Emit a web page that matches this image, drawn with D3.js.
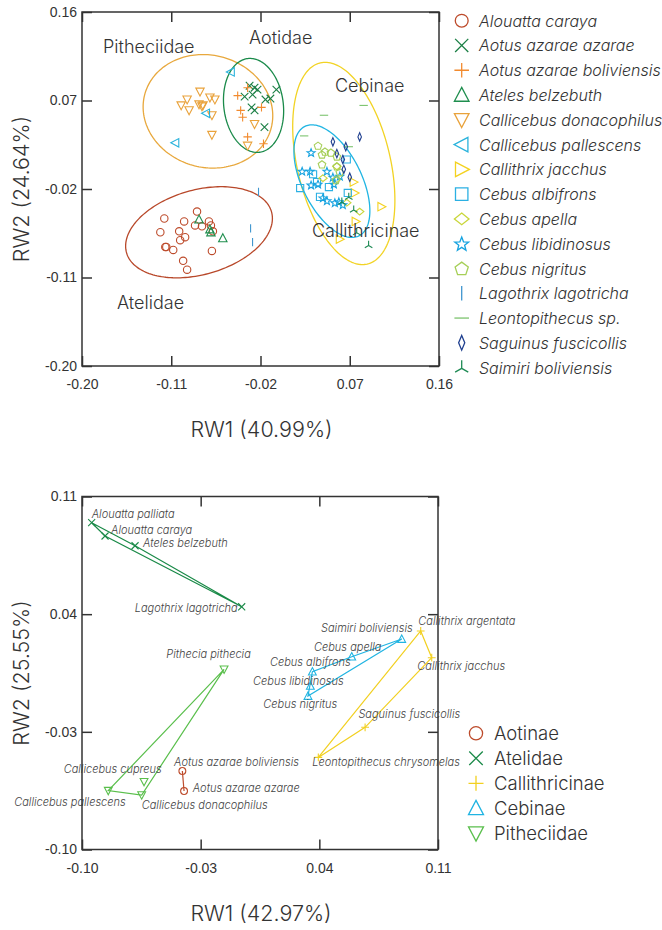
<!DOCTYPE html>
<html>
<head>
<meta charset="utf-8">
<script src="https://cdn.jsdelivr.net/npm/d3@7"></script>
<style>
  html, body { margin: 0; padding: 0; background: #fff; }
  svg { display: block; font-family: Inter, Roboto, "Liberation Sans", Arial, sans-serif; font-weight: 300; }
</style>
</head>
<body>
<svg id="chart" width="662" height="930"></svg>
<script>
// ===================== Upper panel: specimen scores (RW1 vs RW2) =====================
const upperTicks = [-0.20, -0.11, -0.02, 0.07, 0.16];
const upperTickLabels = ["-0.20", "-0.11", "-0.02", "0.07", "0.16"];
const upperXTitle = "RW1 (40.99%)";
const upperYTitle = "RW2 (24.64%)";

const speciesNames = [
  "Alouatta caraya", "Aotus azarae azarae", "Aotus azarae boliviensis", "Ateles belzebuth",
  "Callicebus donacophilus", "Callicebus pallescens", "Callithrix jacchus", "Cebus albifrons",
  "Cebus apella", "Cebus libidinosus", "Cebus nigritus", "Lagothrix lagotricha",
  "Leontopithecus sp.", "Saguinus fuscicollis", "Saimiri boliviensis"
];

const alouattaCaraya = [
  [-0.084, -0.043], [-0.117, -0.050], [-0.097, -0.053], [-0.072, -0.053], [-0.086, -0.057],
  [-0.079, -0.058], [-0.070, -0.057], [-0.121, -0.064], [-0.102, -0.063], [-0.068, -0.063],
  [-0.096, -0.069], [-0.101, -0.072], [-0.116, -0.079], [-0.115, -0.079], [-0.108, -0.082],
  [-0.069, -0.083], [-0.098, -0.093], [-0.094, -0.102]
];
const aotusAzarae = [
  [-0.031, 0.085], [-0.026, 0.083], [-0.023, 0.081], [-0.036, 0.074], [-0.028, 0.076],
  [-0.004, 0.081], [-0.015, 0.071], [-0.010, 0.072], [-0.029, 0.063], [-0.026, 0.060],
  [-0.016, 0.043]
];
const aotusBoliviensis = [
  [-0.033, 0.083], [-0.043, 0.075], [-0.040, 0.060], [-0.038, 0.053], [-0.019, 0.063],
  [-0.033, 0.033], [-0.017, 0.026]
];
const atelesBelzebuth = [[-0.082, -0.051], [-0.071, -0.061], [-0.070, -0.064], [-0.058, -0.070]];
const callicebusDonacophilus = [
  [-0.081, 0.079], [-0.094, 0.071], [-0.100, 0.065], [-0.092, 0.060], [-0.082, 0.066],
  [-0.078, 0.065], [-0.079, 0.064], [-0.071, 0.073], [-0.066, 0.071], [-0.069, 0.055],
  [-0.069, 0.035], [-0.033, 0.024], [-0.026, 0.046]
];
const callicebusPallescens = [[-0.050, 0.099], [-0.075, 0.057], [-0.106, 0.027]];
const callithrixJacchus = [[0.074, -0.013], [0.075, -0.024], [0.102, -0.038], [0.076, -0.053], [0.060, -0.071]];
const cebusAlbifrons = [
  [0.033, -0.005], [0.020, -0.019], [0.037, -0.013], [0.049, -0.018], [0.040, -0.028],
  [0.067, 0.010], [0.068, -0.024]
];
const cebusApella = [[0.043, -0.009], [0.057, -0.010], [0.057, 0.003], [0.067, -0.034], [0.080, -0.043]];
const cebusLibidinosus = [
  [0.031, 0.017], [0.022, -0.002], [0.030, -0.002], [0.047, -0.002], [0.053, -0.008],
  [0.060, -0.007], [0.031, -0.016], [0.054, -0.015], [0.038, -0.015], [0.043, -0.029],
  [0.047, -0.032], [0.055, -0.034], [0.059, -0.033], [0.063, -0.036]
];
const cebusNigritus = [
  [0.038, 0.024], [0.045, 0.018], [0.051, 0.017], [0.042, 0.015], [0.042, 0.005],
  [0.057, 0.013], [0.057, 0.003], [0.060, -0.003], [0.056, -0.011]
];
const lagothrixLagotricha = [[-0.022, -0.023], [-0.030, -0.060], [-0.028, -0.074]];
const leontopithecusSp = [[0.084, 0.065], [0.044, 0.055], [0.024, 0.034], [0.069, 0.023]];
const saguinusFuscicollis = [
  [0.080, 0.033], [0.053, 0.028], [0.066, 0.023], [0.057, 0.016], [0.063, 0.010],
  [0.064, 0.000], [0.070, -0.008]
];
const saimiriBoliviensis = [[0.062, -0.033], [0.069, -0.028], [0.074, -0.041], [0.077, -0.064], [0.089, -0.077]];

const speciesPoints = [
  alouattaCaraya, aotusAzarae, aotusBoliviensis, atelesBelzebuth, callicebusDonacophilus,
  callicebusPallescens, callithrixJacchus, cebusAlbifrons, cebusApella, cebusLibidinosus,
  cebusNigritus, lagothrixLagotricha, leontopithecusSp, saguinusFuscicollis, saimiriBoliviensis
];

// Confidence ellipses per group (centre, semi-axes, orientation in degrees)
const ellipseGroups = ["Pitheciidae", "Aotidae", "Cebinae", "Callithricinae", "Atelidae"];
const ellipseCentres = [[-0.073, 0.059], [-0.027, 0.065], [0.064, 0.006], [0.052, -0.012], [-0.082, -0.064]];
const ellipseAxes = [[0.066, 0.057], [0.048, 0.030], [0.105, 0.047], [0.062, 0.030], [0.076, 0.043]];
const ellipseAngles = [-16, 97, 103, 116, 16];

// ===================== Lower panel: taxon means (RW1 vs RW2) =====================
const lowerTicks = [-0.10, -0.03, 0.04, 0.11];
const lowerTickLabels = ["-0.10", "-0.03", "0.04", "0.11"];
const lowerXTitle = "RW1 (42.97%)";
const lowerYTitle = "RW2 (25.55%)";

const groupNames = ["Aotinae", "Atelidae", "Callithricinae", "Cebinae", "Pitheciidae"];
const taxa = [
  "Alouatta palliata", "Alouatta caraya", "Ateles belzebuth", "Lagothrix lagotricha",
  "Saimiri boliviensis", "Cebus apella", "Cebus albifrons", "Cebus libidinosus", "Cebus nigritus",
  "Callithrix argentata", "Callithrix jacchus", "Saguinus fuscicollis", "Leontopithecus chrysomelas",
  "Pithecia pithecia", "Callicebus cupreus", "Callicebus pallescens", "Callicebus donacophilus",
  "Aotus azarae boliviensis", "Aotus azarae azarae"
];
const taxonGroup = [
  "Atelidae", "Atelidae", "Atelidae", "Atelidae",
  "Cebinae", "Cebinae", "Cebinae", "Cebinae", "Cebinae",
  "Callithricinae", "Callithricinae", "Callithricinae", "Callithricinae",
  "Pitheciidae", "Pitheciidae", "Pitheciidae", "Pitheciidae",
  "Aotinae", "Aotinae"
];
const taxonRW1 = [
  -0.0943, -0.0864, -0.0687, -0.0058,
  0.0886, 0.0591, 0.0359, 0.0347, 0.0333,
  0.0998, 0.1063, 0.0670, 0.0394,
  -0.0162, -0.0634, -0.0845, -0.0648,
  -0.0408, -0.0398
];
const taxonRW2 = [
  0.0944, 0.0865, 0.0807, 0.0444,
  0.0252, 0.0147, 0.0058, -0.0027, -0.0087,
  0.0300, 0.0141, -0.0273, -0.0452,
  0.0072, -0.0597, -0.0650, -0.0676,
  -0.0533, -0.0652
];

// ===================== Styling =====================
const ink = "#333";
const speciesStyle = {
  "Alouatta caraya":          { shape: "circle",      color: "#bd4b2b" },
  "Aotus azarae azarae":      { shape: "times",       color: "#1b7f45" },
  "Aotus azarae boliviensis": { shape: "plus",        color: "#f28a2e" },
  "Ateles belzebuth":         { shape: "triUp",       color: "#1f8e4e" },
  "Callicebus donacophilus":  { shape: "triDown",     color: "#e9a23b" },
  "Callicebus pallescens":    { shape: "triLeft",     color: "#2ab3dc" },
  "Callithrix jacchus":       { shape: "triRight",    color: "#f4d21f" },
  "Cebus albifrons":          { shape: "square",      color: "#2bb0e3" },
  "Cebus apella":             { shape: "diamond",     color: "#c9d63a" },
  "Cebus libidinosus":        { shape: "star",        color: "#16a3e0" },
  "Cebus nigritus":           { shape: "pentagon",    color: "#a6cf57" },
  "Lagothrix lagotricha":     { shape: "vbar",        color: "#3f96cf" },
  "Leontopithecus sp.":       { shape: "hbar",        color: "#7cc36e" },
  "Saguinus fuscicollis":     { shape: "thinDiamond", color: "#1f3f8f" },
  "Saimiri boliviensis":      { shape: "triY",        color: "#1e8a54" }
};
const ellipseColor = { Pitheciidae: "#e8a83d", Aotidae: "#1a8a4a", Cebinae: "#f2d324", Callithricinae: "#20b5e3", Atelidae: "#b8482a" };
// group label anchor (data units, text start / baseline)
const ellipseLabelAt = {
  Pitheciidae: [-0.1788, 0.1183], Aotidae: [-0.0316, 0.1275], Cebinae: [0.0551, 0.0787],
  Callithricinae: [0.0319, -0.0688], Atelidae: [-0.1647, -0.1420]
};
const groupStyle = {
  Aotinae:        { shape: "circle",  color: "#bd4b2b" },
  Atelidae:       { shape: "times",   color: "#1a8a48" },
  Callithricinae: { shape: "plus",    color: "#f2d020" },
  Cebinae:        { shape: "triUp",   color: "#20b4e2" },
  Pitheciidae:    { shape: "triDown", color: "#5abf4c" }
};
// label offsets (px) relative to each taxon mean
const taxonLabelPlacement = {
  "Alouatta palliata":          { dx: 0,     dy: -5,   anchor: "start" },
  "Alouatta caraya":            { dx: 6,     dy: -2,   anchor: "start" },
  "Ateles belzebuth":           { dx: 8,     dy: 1.6,  anchor: "start" },
  "Lagothrix lagotricha":       { dx: -4,    dy: 5.6,  anchor: "end" },
  "Saimiri boliviensis":        { dx: 11,    dy: -6.7, anchor: "end" },
  "Cebus apella":               { dx: -4,    dy: -6,   anchor: "middle" },
  "Cebus albifrons":            { dx: -2,    dy: -5.7, anchor: "middle" },
  "Cebus libidinosus":          { dx: -12,   dy: -1,   anchor: "middle" },
  "Cebus nigritus":             { dx: -7.7,  dy: 11.7, anchor: "middle" },
  "Callithrix argentata":       { dx: -2.4,  dy: -6,   anchor: "start" },
  "Callithrix jacchus":         { dx: -14.4, dy: 12.3, anchor: "start" },
  "Saguinus fuscicollis":       { dx: -6.7,  dy: -9.6, anchor: "start" },
  "Leontopithecus chrysomelas": { dx: -6,    dy: 8.4,  anchor: "start" },
  "Pithecia pithecia":          { dx: -15.5, dy: -11,  anchor: "middle" },
  "Callicebus cupreus":         { dx: 17.7,  dy: -8.4, anchor: "end" },
  "Callicebus pallescens":      { dx: 17.4,  dy: 15,   anchor: "end" },
  "Callicebus donacophilus":    { dx: 0,     dy: 14,   anchor: "start" },
  "Aotus azarae boliviensis":   { dx: -8.3,  dy: -5,   anchor: "start" },
  "Aotus azarae azarae":        { dx: 8.7,   dy: 0.7,  anchor: "start" }
};

// ===================== Marker shapes as d3 symbol types =====================
// size passed to d3.symbol is (2r)^2, r being the half-extent of the glyph
const halfExtent = size => Math.sqrt(size) / 2;
const polygonSymbol = pts => ({
  draw(ctx, size) {
    const r = halfExtent(size);
    pts.forEach(([px, py], i) => i ? ctx.lineTo(px * r, py * r) : ctx.moveTo(px * r, py * r));
    ctx.closePath();
  }
});
const segmentSymbol = segs => ({
  draw(ctx, size) {
    const r = halfExtent(size);
    segs.forEach(([x1, y1, x2, y2]) => { ctx.moveTo(x1 * r, y1 * r); ctx.lineTo(x2 * r, y2 * r); });
  }
});
const starPts = d3.range(10).map(i => {
  const a = -Math.PI / 2 + i * Math.PI / 5, rr = i % 2 ? 0.42 : 1;
  return [rr * Math.cos(a), rr * Math.sin(a) + 0.08];
});
const pentPts = d3.range(5).map(i => {
  const a = -Math.PI / 2 + i * 2 * Math.PI / 5;
  return [0.95 * Math.cos(a), 0.95 * Math.sin(a) + 0.08];
});
const symbolTypes = {
  circle: { draw(ctx, size) { const r = halfExtent(size) * 0.88; ctx.moveTo(r, 0); ctx.arc(0, 0, r, 0, 2 * Math.PI); } },
  times: segmentSymbol([[-0.9, -0.9, 0.9, 0.9], [-0.9, 0.9, 0.9, -0.9]]),
  plus: segmentSymbol([[-1, 0, 1, 0], [0, -1, 0, 1]]),
  triUp: polygonSymbol([[0, -1.05], [1, 0.85], [-1, 0.85]]),
  triDown: polygonSymbol([[0, 1.05], [1, -0.85], [-1, -0.85]]),
  triLeft: polygonSymbol([[-1.05, 0], [0.85, -1], [0.85, 1]]),
  triRight: polygonSymbol([[1.05, 0], [-0.85, -1], [-0.85, 1]]),
  square: polygonSymbol([[-0.85, -0.85], [0.85, -0.85], [0.85, 0.85], [-0.85, 0.85]]),
  diamond: polygonSymbol([[0, -0.8], [1, 0], [0, 0.8], [-1, 0]]),
  star: polygonSymbol(starPts),
  pentagon: polygonSymbol(pentPts),
  vbar: segmentSymbol([[0, -1, 0, 1]]),
  hbar: segmentSymbol([[-1, 0, 1, 0]]),
  thinDiamond: polygonSymbol([[0, -1], [0.42, 0], [0, 1], [-0.42, 0]]),
  triY: segmentSymbol([[0, 0.1, 0, -1], [0, 0.1, -0.9, 0.62], [0, 0.1, 0.9, 0.62]])
};
const symbolPath = (shape, r) => d3.symbol().type(symbolTypes[shape]).size((2 * r) * (2 * r))();

// ===================== Drawing =====================
const svg = d3.select("#chart");
svg.append("rect").attr("width", 662).attr("height", 930).attr("fill", "#fff");

function framedAxes(g, x, y, ticks, labels, xTitle, yTitle) {
  const [x0, x1] = x.range(), [y0, y1] = y.range();
  const fmt = v => labels[ticks.indexOf(v)];
  const style = sel => {
    sel.select(".domain").remove();
    sel.selectAll("line").attr("stroke", ink).attr("stroke-width", 1.5);
    sel.selectAll("text").attr("fill", ink).attr("font-size", 14);
  };
  g.append("g").attr("transform", `translate(0,${y0})`)
    .call(d3.axisBottom(x).tickValues(ticks).tickFormat(fmt).tickSize(-10).tickPadding(13.5)).call(style);
  g.append("g").attr("transform", `translate(${x0},0)`)
    .call(d3.axisLeft(y).tickValues(ticks).tickFormat(fmt).tickSize(-10).tickPadding(5)).call(style);
  g.append("g").attr("transform", `translate(0,${y1})`)
    .call(d3.axisTop(x).tickValues(ticks).tickFormat("").tickSize(-10)).call(style);
  g.append("g").attr("transform", `translate(${x1},0)`)
    .call(d3.axisRight(y).tickValues(ticks).tickFormat("").tickSize(-10)).call(style);
  g.append("rect").attr("x", x0).attr("y", y1).attr("width", x1 - x0).attr("height", y0 - y1)
    .attr("fill", "none").attr("stroke", ink).attr("stroke-width", 1.5);
  g.append("text").attr("x", (x0 + x1) / 2 + 1).attr("y", y0 + 71).attr("text-anchor", "middle")
    .attr("font-size", 21.5).attr("fill", ink).text(xTitle);
  g.append("text").attr("transform", `translate(29,${(y0 + y1) / 2}) rotate(-90)`).attr("text-anchor", "middle")
    .attr("font-size", 21.5).attr("fill", ink).text(yTitle);
}

// ---- upper panel ----
const xU = d3.scaleLinear().domain([-0.20, 0.16]).range([82, 439]);
const yU = d3.scaleLinear().domain([-0.20, 0.16]).range([366, 12]);
const upper = svg.append("g");

const ellipseLine = d3.line().curve(d3.curveLinearClosed);
ellipseGroups.forEach((name, i) => {
  const [cx, cy] = ellipseCentres[i], [a, b] = ellipseAxes[i], th = ellipseAngles[i] * Math.PI / 180;
  const pts = d3.range(0, 2 * Math.PI, Math.PI / 90).map(t => {
    const ex = a * Math.cos(t), ey = b * Math.sin(t);
    return [xU(cx + ex * Math.cos(th) - ey * Math.sin(th)), yU(cy + ex * Math.sin(th) + ey * Math.cos(th))];
  });
  upper.append("path").attr("d", ellipseLine(pts)).attr("fill", "none")
    .attr("stroke", ellipseColor[name]).attr("stroke-width", 1.3);
});

speciesNames.forEach((name, i) => {
  const st = speciesStyle[name];
  upper.append("g").selectAll("path").data(speciesPoints[i]).join("path")
    .attr("transform", d => `translate(${xU(d[0])},${yU(d[1])})`)
    .attr("d", symbolPath(st.shape, 4.2))
    .attr("fill", "none").attr("stroke", st.color).attr("stroke-width", 1.1);
});

ellipseGroups.forEach(name => {
  const [lx, ly] = ellipseLabelAt[name];
  upper.append("text").attr("x", xU(lx)).attr("y", yU(ly)).attr("font-size", 18)
    .attr("fill", ink).text(name);
});

framedAxes(upper, xU, yU, upperTicks, upperTickLabels, upperXTitle, upperYTitle);

// species legend
const legU = svg.append("g").attr("transform", "translate(0,20.7)");
speciesNames.forEach((name, i) => {
  const st = speciesStyle[name];
  const row = legU.append("g").attr("transform", `translate(0,${i * 24.78})`);
  row.append("path").attr("transform", "translate(461.7,0)").attr("d", symbolPath(st.shape, 7.3))
    .attr("fill", "none").attr("stroke", st.color).attr("stroke-width", 1.3);
  row.append("text").attr("x", 479).attr("y", 6).attr("font-size", 16).attr("font-style", "italic")
    .attr("fill", ink).text(name);
});

// ---- lower panel ----
const xL = d3.scaleLinear().domain([-0.10, 0.11]).range([82, 438]);
const yL = d3.scaleLinear().domain([-0.10, 0.11]).range([849.5, 496.5]);
const lower = svg.append("g");
const taxonRows = taxa.map((name, i) => ({ name, group: taxonGroup[i], x: xL(taxonRW1[i]), y: yL(taxonRW2[i]) }));

groupNames.forEach(grp => {
  const pts = taxonRows.filter(d => d.group === grp).map(d => [d.x, d.y]);
  const hull = pts.length > 2 ? d3.polygonHull(pts) : pts;
  lower.append("path").attr("d", (pts.length > 2 ? d3.line().curve(d3.curveLinearClosed) : d3.line())(hull))
    .attr("fill", "none").attr("stroke", groupStyle[grp].color).attr("stroke-width", 1.2);
});

lower.append("g").selectAll("path").data(taxonRows).join("path")
  .attr("transform", d => `translate(${d.x},${d.y})`)
  .attr("d", d => symbolPath(groupStyle[d.group].shape, 3.9))
  .attr("fill", "none").attr("stroke", d => groupStyle[d.group].color).attr("stroke-width", 1.1);

lower.append("g").selectAll("text").data(taxonRows).join("text")
  .attr("x", d => d.x + taxonLabelPlacement[d.name].dx)
  .attr("y", d => d.y + taxonLabelPlacement[d.name].dy)
  .attr("text-anchor", d => taxonLabelPlacement[d.name].anchor)
  .attr("font-size", 11).attr("font-style", "italic").attr("fill", "#444")
  .text(d => d.name);

framedAxes(lower, xL, yL, lowerTicks, lowerTickLabels, lowerXTitle, lowerYTitle);

// group legend
const legL = svg.append("g").attr("transform", "translate(0,733.3)");
groupNames.forEach((grp, i) => {
  const row = legL.append("g").attr("transform", `translate(0,${i * 25})`);
  row.append("path").attr("transform", "translate(476,0)").attr("d", symbolPath(groupStyle[grp].shape, 7.5))
    .attr("fill", "none").attr("stroke", groupStyle[grp].color).attr("stroke-width", 1.3);
  row.append("text").attr("x", 494).attr("y", 7).attr("font-size", 18.5).attr("fill", ink).text(grp);
});
</script>
</body>
</html>
